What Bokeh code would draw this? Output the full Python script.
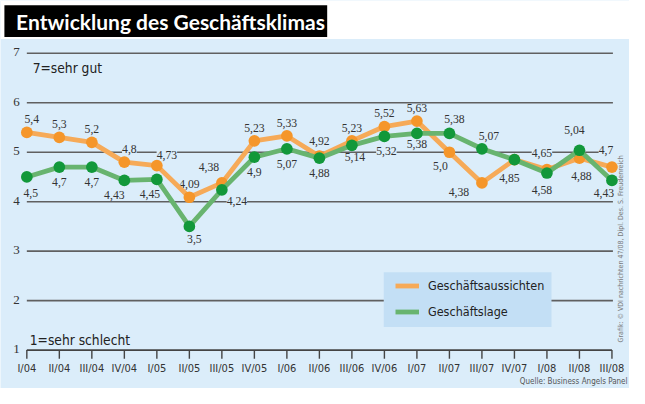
import math
from bokeh.plotting import figure
from bokeh.models import (ColumnDataSource, LabelSet, Label, BoxAnnotation, Legend, LegendItem)
from bokeh.embed import file_html
from bokeh.resources import INLINE
from bokeh.core.properties import value

# ---------------- data ----------------
quarters = ["I/04", "II/04", "III/04", "IV/04", "I/05", "II/05", "III/05", "IV/05",
            "I/06", "II/06", "III/06", "IV/06", "I/07", "II/07", "III/07", "IV/07",
            "I/08", "II/08", "III/08"]
aussichten = [5.4, 5.3, 5.2, 4.8, 4.73, 4.09, 4.38, 5.23, 5.33, 4.92, 5.23, 5.52,
              5.63, 5.0, 4.38, 4.85, 4.65, 4.88, 4.7]
lage = [4.5, 4.7, 4.7, 4.43, 4.45, 3.5, 4.24, 4.9, 5.07, 4.88, 5.14, 5.32,
        5.38, 5.38, 5.07, 4.85, 4.58, 5.04, 4.43]
y_ticks = [1, 2, 3, 4, 5, 6, 7]
series_names = ["Geschäftsaussichten", "Geschäftslage"]
title_text = "Entwicklung des Geschäftsklimas"
top_note = "7=sehr gut"
bottom_note = "1=sehr schlecht"
credit = "Grafik: © VDI nachrichten 47/08, Dipl. Des. S. Freudenreich"
source_note = "Quelle: Business Angels Panel"

# ---------------- style / geometry ----------------
W, H = 629, 388
SX, SY = W / 645, H / 404           # reference px -> figure px
BG = "#dbedfa"
LEG_BG = "#c3dff5"
GRID = "#606060"
TXT = "#333333"
OR_LINE, OR_DOT = "#f6aa58", "#f5962a"
GR_LINE, GR_DOT = "#68b46f", "#12983a"
COND = "'DejaVu Sans Condensed', 'Liberation Sans Narrow', sans-serif"

n = len(quarters)
X0 = 27 * SX                         # px of first quarter
PX_X = (627 - 27) * SX / (n - 1)     # px per quarter
Y7 = 55 * SY                         # px of value 7 from top
PX_Y = (364 - 55) * SY / 6           # px per unit

x_start = -X0 / PX_X
x_end = (W - X0) / PX_X
y_end = 7 + Y7 / PX_Y
y_start = 7 - (H - Y7) / PX_Y

def rx(px):  # reference x pixel -> data x
    return (px * SX - X0) / PX_X

def ry(py):  # reference y pixel -> data y
    return 7 - (py * SY - Y7) / PX_Y

def fmt(v):
    s = f"{v:.2f}".rstrip("0")
    if s.endswith("."):
        s += "0"
    return s.replace(".", ",")

idx = list(range(n))

p = figure(width=W, height=H, output_backend="svg", toolbar_location=None,
           x_range=(x_start, x_end), y_range=(y_start, y_end),
           min_border_left=0, min_border_right=0, min_border_top=0, min_border_bottom=0,
           background_fill_color=BG, border_fill_color=BG, outline_line_color=None)
p.xaxis.visible = False
p.yaxis.visible = False
p.xgrid.visible = False
p.ygrid.visible = False

# top white band and black title box
p.add_layout(BoxAnnotation(left=x_start, right=x_end, bottom=ry(40), top=y_end,
                           fill_color="white", fill_alpha=1, line_color=None, level="underlay"))
p.add_layout(BoxAnnotation(left=rx(4), right=rx(335), bottom=ry(38), top=ry(5),
                           fill_color="black", fill_alpha=1, line_color=None, level="underlay"))
p.add_layout(Label(x=rx(16), y=ry(22), text=title_text,
                   text_color="white", text_font="Lato", text_font_style="bold",
                   text_font_size="21px", text_baseline="middle", level="underlay"))

# gridlines 2..7
gl = y_ticks[1:]
p.segment(x0=[idx[0]] * len(gl), y0=gl, x1=[idx[-1] + 0.03] * len(gl), y1=gl,
          line_color=GRID, line_width=1.6, level="image")

# x axis (baseline, ticks, labels) at value 1
p.segment(x0=[idx[0]], y0=[y_ticks[0]], x1=[idx[-1]], y1=[y_ticks[0]],
          line_color="#444444", line_width=1.6, level="image")
p.segment(x0=idx, y0=[y_ticks[0]] * n, x1=idx, y1=[ry(373)] * n,
          line_color="#444444", line_width=1.4, level="image")
p.text(x=idx, y=[ry(383)] * n, text=quarters, text_align="center", text_baseline="middle",
       text_font=value(COND), text_font_size="11px", text_color=TXT)

# y tick labels
ysrc = ColumnDataSource(dict(y=y_ticks, x=[0] * len(y_ticks), t=[str(v) for v in y_ticks]))
p.add_layout(LabelSet(x="x", y="y", text="t", source=ysrc, x_offset=-7, y_offset=1,
                      text_align="right", text_baseline="middle", text_font=COND,
                      text_font_size="13px", text_color=TXT))

p.add_layout(Label(x=rx(33), y=ry(70), text=top_note, text_font=COND,
                   text_font_size="13.7px", text_color="#222222", text_baseline="middle"))
p.add_layout(Label(x=rx(30), y=ry(353), text=bottom_note, text_font=COND,
                   text_font_size="13.7px", text_color="#222222", text_baseline="middle"))

# legend background box (drawn over gridline 2)
p.add_layout(BoxAnnotation(left=rx(393), right=rx(565), bottom=ry(340), top=ry(283),
                           fill_color=LEG_BG, fill_alpha=1, line_color=None, level="underlay"))

# value labels (offsets in screen px)
or_dx = {0: 5, 3: 5, 4: 10, 6: -13, 13: -9, 14: -23, 16: -5, 17: 2, 18: -6}
or_dy = {4: 11, 6: 16, 9: 15, 11: 14, 13: -14, 14: -9, 16: 17, 17: -18, 18: 17}
gr_dx = {0: 4, 3: -10, 4: -7, 5: 5, 6: 15, 10: 3, 11: 2, 13: 5, 14: 7, 15: -5, 16: -5, 17: -5, 18: -8}
gr_dy = {0: -16, 5: -13, 6: -11, 10: -12, 12: -11, 13: 14, 14: 13, 15: -18, 16: -17, 17: 20, 18: -13}

or_txt = [fmt(a) if a != b else "" for a, b in zip(aussichten, lage)]
osrc = ColumnDataSource(dict(x=idx, y=aussichten, t=or_txt,
                             dx=[or_dx.get(i, 0) for i in idx],
                             dy=[or_dy.get(i, 13) for i in idx]))
gsrc = ColumnDataSource(dict(x=idx, y=lage, t=[fmt(v) for v in lage],
                             dx=[gr_dx.get(i, 0) for i in idx],
                             dy=[gr_dy.get(i, -15) for i in idx]))
for src in (osrc, gsrc):
    p.add_layout(LabelSet(x="x", y="y", text="t", source=src, x_offset="dx", y_offset="dy",
                          text_align="center", text_baseline="middle", text_font=COND,
                          text_font_size="11.7px", text_color=TXT,
                          background_fill_color=BG, level="underlay"))

# series
lo = p.line(idx, aussichten, line_color=OR_LINE, line_width=4.8, line_join="round")
p.scatter(idx, aussichten, size=11.7, fill_color=OR_DOT, line_color=None)
lg = p.line(idx, lage, line_color=GR_LINE, line_width=4.8, line_join="round")
p.scatter(idx, lage, size=11.7, fill_color=GR_DOT, line_color=None)

legend = Legend(items=[LegendItem(label=series_names[0], renderers=[lo]),
                       LegendItem(label=series_names[1], renderers=[lg])],
                location=(405 * SX, H - 332 * SY), orientation="vertical",
                background_fill_alpha=0, border_line_color=None,
                padding=0, spacing=11, margin=0,
                glyph_width=24, glyph_height=9, label_height=9,
                label_standoff=9, label_text_font=COND, label_text_font_size="12.5px",
                label_text_color="#222222")
p.add_layout(legend, "center")

# credit (rotated) and source
p.add_layout(Label(x=rx(636), y=ry(356), angle=math.pi / 2, text=credit,
                   text_font=COND, text_font_size="7px", text_color="#7a7a7a",
                   text_baseline="middle", text_align="left"))
p.add_layout(Label(x=rx(643), y=ry(397), text=source_note,
                   text_font=COND, text_font_size="8px", text_color="#555555",
                   text_baseline="middle", text_align="right"))

open("out.html", "w").write(file_html(p, INLINE))
